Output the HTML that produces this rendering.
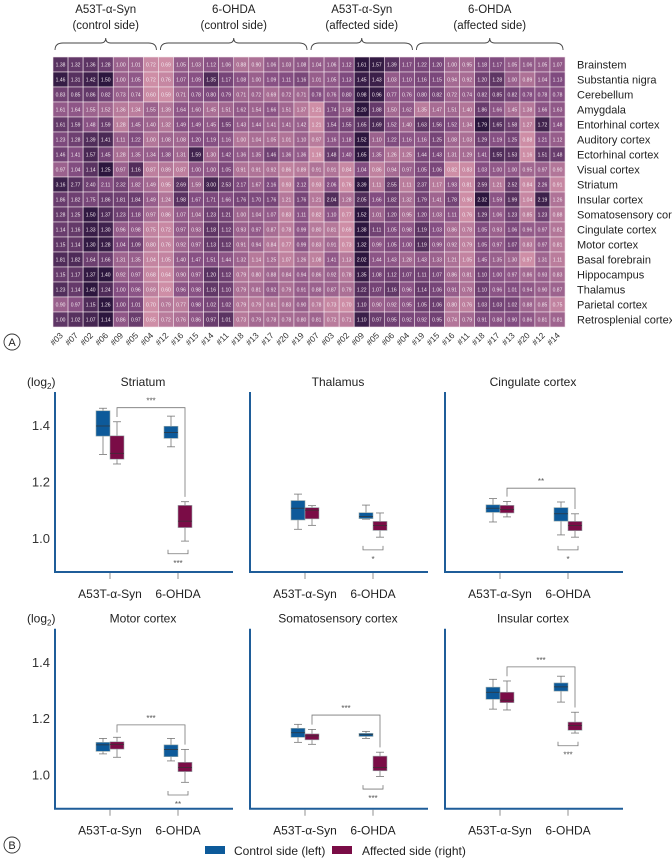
<!DOCTYPE html>
<html><head><meta charset="utf-8">
<style>
html,body{margin:0;padding:0;background:#fff;}
svg{display:block;font-family:"Liberation Sans",sans-serif;}
</style></head>
<body>
<svg id="fig" width="672" height="859" viewBox="0 0 672 859" xmlns="http://www.w3.org/2000/svg">
<g id="heat"></g>
<g id="boxes"></g>
</svg>
<script>
const NS="http://www.w3.org/2000/svg";
// ---------- Heatmap data ----------
const regions=["Brainstem","Substantia nigra","Cerebellum","Amygdala","Entorhinal cortex","Auditory cortex","Ectorhinal cortex","Visual cortex","Striatum","Insular cortex","Somatosensory cortex","Cingulate cortex","Motor cortex","Basal forebrain","Hippocampus","Thalamus","Parietal cortex","Retrosplenial cortex"];
const sampleIds=["#03","#07","#02","#06","#09","#05","#04","#12","#16","#15","#14","#11","#18","#13","#17","#20","#19","#07","#03","#02","#09","#05","#06","#04","#19","#15","#16","#11","#18","#17","#13","#20","#12","#14"];
const groupNames=[["A53T-α-Syn","(control side)"],["6-OHDA","(control side)"],["A53T-α-Syn","(affected side)"],["6-OHDA","(affected side)"]];
const groupSizes=[7,10,7,10];
const heatValues=[
[1.38,1.32,1.36,1.28,1.00,1.01,0.72,0.69,1.05,1.03,1.12,1.06,0.88,0.90,1.06,1.03,1.08,1.04,1.06,1.12,1.61,1.57,1.39,1.17,1.22,1.20,1.00,0.95,1.18,1.17,1.05,1.06,1.05,1.07],
[1.46,1.31,1.42,1.50,1.00,1.05,0.72,0.76,1.07,1.09,1.35,1.17,1.08,1.00,1.09,1.11,1.16,1.01,1.05,1.13,1.45,1.43,1.03,1.10,1.16,1.15,0.94,0.92,1.20,1.28,1.00,0.89,1.04,1.13],
[0.83,0.85,0.86,0.82,0.73,0.74,0.60,0.59,0.71,0.78,0.80,0.79,0.71,0.72,0.69,0.72,0.71,0.78,0.76,0.80,0.98,0.96,0.77,0.76,0.80,0.82,0.72,0.74,0.82,0.85,0.82,0.78,0.78,0.78],
[1.61,1.64,1.55,1.52,1.36,1.34,1.55,1.39,1.64,1.60,1.45,1.51,1.62,1.54,1.66,1.51,1.37,1.21,1.74,1.58,2.20,1.88,1.50,1.62,1.35,1.47,1.51,1.40,1.86,1.66,1.45,1.38,1.66,1.63],
[1.61,1.59,1.48,1.59,1.28,1.45,1.40,1.32,1.49,1.49,1.45,1.55,1.43,1.44,1.41,1.41,1.42,1.21,1.54,1.55,1.65,1.69,1.52,1.40,1.63,1.56,1.52,1.34,1.79,1.65,1.58,1.27,1.72,1.48],
[1.23,1.28,1.39,1.41,1.11,1.22,1.00,1.08,1.08,1.20,1.19,1.16,1.00,1.04,1.05,1.01,1.10,0.97,1.16,1.18,1.52,1.10,1.22,1.16,1.16,1.25,1.08,1.03,1.29,1.19,1.25,0.88,1.21,1.12],
[1.46,1.41,1.57,1.45,1.28,1.35,1.34,1.38,1.31,1.59,1.30,1.42,1.36,1.35,1.46,1.36,1.36,1.16,1.48,1.40,1.65,1.35,1.26,1.25,1.44,1.43,1.31,1.29,1.41,1.55,1.53,1.16,1.51,1.48],
[0.97,1.04,1.14,1.25,0.97,1.16,0.87,0.89,0.87,1.00,1.00,1.05,0.91,0.91,0.92,0.86,0.89,0.91,0.91,0.84,1.04,0.86,0.94,0.97,1.05,1.06,0.82,0.83,1.03,1.00,1.00,0.95,0.97,0.90],
[3.16,2.77,2.40,2.11,2.32,1.82,1.49,0.95,2.69,1.59,3.00,2.53,2.17,1.67,2.16,0.93,2.12,0.93,2.06,0.76,3.39,1.11,2.55,1.11,2.37,1.17,1.93,0.81,2.59,1.21,2.52,0.84,2.26,0.91],
[1.86,1.82,1.75,1.86,1.81,1.84,1.49,1.24,1.98,1.67,1.71,1.66,1.76,1.70,1.76,1.21,1.76,1.21,2.04,1.28,2.05,1.66,1.82,1.32,1.79,1.41,1.78,0.98,2.32,1.59,1.99,1.04,2.19,1.26],
[1.28,1.25,1.50,1.37,1.23,1.18,0.97,0.86,1.07,1.04,1.23,1.21,1.00,1.04,1.07,0.83,1.11,0.82,1.10,0.77,1.52,1.01,1.20,0.95,1.20,1.03,1.11,0.76,1.29,1.06,1.23,0.85,1.23,0.88],
[1.14,1.16,1.33,1.30,0.96,0.98,0.75,0.72,0.97,0.93,1.18,1.12,0.93,0.97,0.87,0.78,0.99,0.80,0.81,0.69,1.38,1.11,1.05,0.98,1.19,1.03,0.86,0.78,1.05,0.93,1.06,0.96,0.97,0.82],
[1.15,1.14,1.30,1.28,1.04,1.09,0.80,0.76,0.92,0.97,1.13,1.12,0.91,0.94,0.84,0.77,0.99,0.83,0.91,0.73,1.32,0.99,1.05,1.00,1.19,0.99,0.92,0.79,1.05,0.97,1.07,0.83,0.97,0.81],
[1.81,1.82,1.64,1.66,1.31,1.35,1.04,1.05,1.40,1.47,1.51,1.44,1.32,1.14,1.25,1.07,1.26,1.08,1.41,1.13,2.02,1.44,1.43,1.28,1.43,1.33,1.21,1.05,1.45,1.35,1.30,0.97,1.31,1.11],
[1.15,1.17,1.37,1.40,0.92,0.97,0.68,0.64,0.90,0.97,1.20,1.12,0.79,0.80,0.88,0.84,0.94,0.86,0.92,0.78,1.35,1.08,1.12,1.07,1.11,1.07,0.86,0.81,1.10,1.00,0.97,0.86,0.93,0.83],
[1.23,1.14,1.40,1.24,1.00,0.96,0.69,0.60,0.96,0.98,1.16,1.10,0.79,0.81,0.92,0.79,0.91,0.88,0.87,0.79,1.22,1.07,1.16,0.96,1.14,1.06,0.91,0.78,1.10,0.96,1.01,0.94,0.90,0.87],
[0.90,0.97,1.15,1.26,1.00,1.01,0.70,0.79,0.77,0.98,1.02,1.02,0.79,0.79,0.81,0.83,0.90,0.78,0.73,0.70,1.10,0.90,0.92,0.95,1.05,1.06,0.80,0.76,1.03,1.03,1.02,0.88,0.85,0.75],
[1.00,1.02,1.07,1.14,0.86,0.97,0.65,0.72,0.76,0.86,0.97,1.01,0.73,0.79,0.78,0.78,0.80,0.81,0.72,0.71,1.10,0.97,0.95,0.92,0.92,0.95,0.74,0.79,0.91,0.88,0.90,0.86,0.81,0.81]
];
// ---------- Boxplot data (whiskerLow, q1, median, q3, whiskerHigh) ----------
const panelTitles=["Striatum","Thalamus","Cingulate cortex","Motor cortex","Somatosensory cortex","Insular cortex"];
const categories=["A53T-α-Syn","6-OHDA"];
const controlA53T=[[1.298,1.363,1.399,1.453,1.462],[1.032,1.065,1.107,1.134,1.157],[1.058,1.092,1.107,1.119,1.141],[1.075,1.084,1.107,1.116,1.130],[1.116,1.134,1.150,1.166,1.180],[1.234,1.269,1.294,1.312,1.340]];
const affectedA53T=[[1.264,1.281,1.302,1.364,1.414],[1.046,1.069,1.100,1.109,1.116],[1.076,1.090,1.102,1.117,1.131],[1.063,1.092,1.109,1.118,1.134],[1.109,1.125,1.139,1.146,1.162],[1.231,1.257,1.266,1.294,1.334]];
const controlOHDA=[[1.325,1.355,1.376,1.398,1.434],[1.068,1.070,1.077,1.091,1.118],[1.012,1.061,1.087,1.109,1.129],[1.050,1.065,1.091,1.107,1.130],[1.130,1.137,1.143,1.148,1.155],[1.259,1.298,1.313,1.327,1.351]];
const affectedOHDA=[[0.990,1.038,1.061,1.117,1.130],[1.004,1.028,1.045,1.060,1.090],[1.004,1.027,1.045,1.060,1.087],[0.974,1.012,1.027,1.045,1.091],[0.995,1.015,1.027,1.067,1.081],[1.149,1.159,1.176,1.188,1.223]];
const topBracketValue=[1.464,null,1.178,1.178,1.213,1.384];
const topBracketStars=["***","","**","***","***","***"];
const bottomBracketStars=["***","*","*","**","***","***"];
const yTicks=[1.0,1.2,1.4];
const legendLabels=["Control side (left)","Affected side (right)"];

function mk(tag,attrs,parent,text){const e=document.createElementNS(NS,tag);for(const k in attrs)e.setAttribute(k,attrs[k]);if(text!==undefined)e.textContent=text;parent.appendChild(e);return e;}

// ---------- Heatmap drawing ----------
const heat=document.getElementById('heat');
const hx0=53,hy0=57,cw=15.06,ch=15;
const cLight=[206,142,166],cMid=[132,78,130],cDark=[44,22,62];
function colorFor(t){let a,b,u;if(t<0.5){a=cLight;b=cMid;u=t/0.5;}else{a=cMid;b=cDark;u=(t-0.5)/0.5;}return `rgb(${a.map((v,i)=>Math.round(v+(b[i]-v)*u)).join(',')})`;}
const xCell=i=>hx0+i*cw, yCell=r=>hy0+r*ch;
heatValues.forEach((row,r)=>{
  const mn=Math.min(...row),mx=Math.max(...row);
  row.forEach((v,i)=>{
    const t=(v-mn)/(mx-mn||1);
    const rc=mk('rect',{x:xCell(i),y:yCell(r),width:cw,height:ch,fill:colorFor(t),stroke:'#f3e6ec','stroke-width':0.6},heat);
    
    
    const tx=mk('text',{x:xCell(i)+cw/2,y:yCell(r)+ch/2+1.8,'font-size':5,'text-anchor':'middle',fill:'#f4eaf0'},heat,v.toFixed(2));
    
    
  });
  const lb=mk('text',{x:577,y:yCell(r)+ch/2+4,'font-size':11,fill:'#222'},heat,regions[r]);
  
  
});
sampleIds.forEach((s,i)=>{
  const cx=xCell(i)+cw/2+3,cy=hy0+18*ch+9;
  const t=mk('text',{x:cx,y:cy,'font-size':8.5,'text-anchor':'end',fill:'#333',transform:`rotate(-45 ${cx} ${cy})`},heat,s);
  
  
});
let gStart=0;
groupSizes.forEach((n,g)=>{
  const x1=xCell(gStart)+2,x2=xCell(gStart+n)-2,xm=(x1+x2)/2;
  const br=mk('path',{d:`M${x1},50 Q${x1},43 ${x1+8},43 L${xm-5},43 Q${xm},43 ${xm},38 Q${xm},43 ${xm+5},43 L${x2-8},43 Q${x2},43 ${x2},50`,fill:'none',stroke:'#444','stroke-width':0.9},heat);
  
  
  const t1=mk('text',{x:xm,y:13,'font-size':11.5,'text-anchor':'middle',fill:'#222'},heat,groupNames[g][0]);
  
  
  const t2=mk('text',{x:xm,y:29,'font-size':11.5,'text-anchor':'middle',fill:'#222'},heat,groupNames[g][1]);
  
  
  gStart+=n;
});
function panelLetter(letter,x,y,parent){
  const c=mk('circle',{cx:x,cy:y,r:8,fill:'#fff',stroke:'#333','stroke-width':0.9},parent);
  
  
  const t=mk('text',{x:x,y:y+4,'font-size':11,'text-anchor':'middle',fill:'#222'},parent,letter);
  
  
}
panelLetter('A',12,342,heat);

// ---------- Boxplots ----------
const boxes=document.getElementById('boxes');
const BLUE='#0d5a9a',MAROON='#7a0c46',AXIS='#1f5d99',GRAY='#777';
const panelX=[55,250,445],rowBase=[538.3,775],rowAxis=[572,808.7],rowTop=[392,628.7],pxPerUnit=281.5;
for(let p=0;p<6;p++){
  const col=p%3,row=Math.floor(p/3),ax=panelX[col];
  const yv=v=>rowBase[row]-(v-1)*pxPerUnit;
  const g=mk('g',{},boxes);
  
  
  const title=mk('text',{x:ax+88,y:rowTop[row]-6,'font-size':12,'text-anchor':'middle',fill:'#222'},g,panelTitles[p]);
  
  
  const axl=mk('path',{d:`M${ax},${rowTop[row]} L${ax},${rowAxis[row]} L${ax+178},${rowAxis[row]}`,fill:'none',stroke:AXIS,'stroke-width':2},g);
  
  
  if(col===0){
    const yl=mk('text',{x:27,y:rowTop[row]-6,'font-size':12,fill:'#222'},g,'(log');
    
    
    mk('tspan',{'font-size':8,dy:3},yl,'2');
    mk('tspan',{dy:-3},yl,')');
    yTicks.forEach(v=>{
      const tl=mk('text',{x:50,y:yv(v)+4.5,'font-size':13,'text-anchor':'end',fill:'#333'},g,v.toFixed(1));
      
      
    });
  }
  const catX=[ax+55,ax+123];
  categories.forEach((c,i)=>{
    const tk=mk('line',{x1:catX[i],y1:rowAxis[row]+1,x2:catX[i],y2:rowAxis[row]+7,stroke:GRAY,'stroke-width':0.8},g);
    
    
    const tl=mk('text',{x:catX[i],y:rowAxis[row]+26,'font-size':12,'text-anchor':'middle',fill:'#222'},g,c);
    
    
  });
  const series=[[controlA53T[p],catX[0]-7,BLUE,'box-control-a53t'],[affectedA53T[p],catX[0]+7,MAROON,'box-affected-a53t'],[controlOHDA[p],catX[1]-7,BLUE,'box-control-6ohda'],[affectedOHDA[p],catX[1]+7,MAROON,'box-affected-6ohda']];
  series.forEach(([d,cx,color,name])=>{
    const bg=mk('g',{},g);
    
    
    mk('line',{x1:cx,y1:yv(d[4]),x2:cx,y2:yv(d[0]),stroke:GRAY,'stroke-width':0.8},bg);
    mk('line',{x1:cx-4,y1:yv(d[4]),x2:cx+4,y2:yv(d[4]),stroke:GRAY,'stroke-width':0.8},bg);
    mk('line',{x1:cx-4,y1:yv(d[0]),x2:cx+4,y2:yv(d[0]),stroke:GRAY,'stroke-width':0.8},bg);
    mk('rect',{x:cx-7,y:yv(d[3]),width:14,height:Math.max(1.5,yv(d[1])-yv(d[3])),fill:color,stroke:'#9aa','stroke-width':0.6},bg);
    mk('line',{x1:cx-7,y1:yv(d[2]),x2:cx+7,y2:yv(d[2]),stroke:'#333','stroke-width':0.7},bg);
  });
  if(topBracketValue[p]!==null){
    const yb=yv(topBracketValue[p]);
    const xl=catX[0]+7,xr=catX[1]+7;
    const yl=yv(affectedA53T[p][4]+0.017),yr=yv(affectedOHDA[p][4]+0.017);
    const b=mk('path',{d:`M${xl},${yl} L${xl},${yb} L${xr},${yb} L${xr},${yr}`,fill:'none',stroke:GRAY,'stroke-width':0.8},g);
    
    
    const s=mk('text',{x:(xl+xr)/2,y:yb-4,'font-size':8,'text-anchor':'middle',fill:'#555'},g,topBracketStars[p]);
    
    
  }
  const yBot=yv(Math.min(controlOHDA[p][0],affectedOHDA[p][0])-0.045);
  const bx1=catX[1]-10,bx2=catX[1]+10;
  const bb=mk('path',{d:`M${bx1},${yBot-4} L${bx1},${yBot} L${bx2},${yBot} L${bx2},${yBot-4}`,fill:'none',stroke:GRAY,'stroke-width':0.8},g);
  
  
  const bs=mk('text',{x:catX[1],y:yBot+12,'font-size':8,'text-anchor':'middle',fill:'#555'},g,bottomBracketStars[p]);
  
  
}
panelLetter('B',12,845,boxes);
// legend
const lg=mk('g',{},boxes);


[[205,234,BLUE],[332,362,MAROON]].forEach(([rx,tx,c],i)=>{
  const e=mk('g',{},lg);
  
  
  mk('rect',{x:rx,y:846,width:20,height:8,fill:c},e);
  mk('text',{x:tx,y:855,'font-size':12,fill:'#222'},e,legendLabels[i]);
});
</script>
</body></html>
